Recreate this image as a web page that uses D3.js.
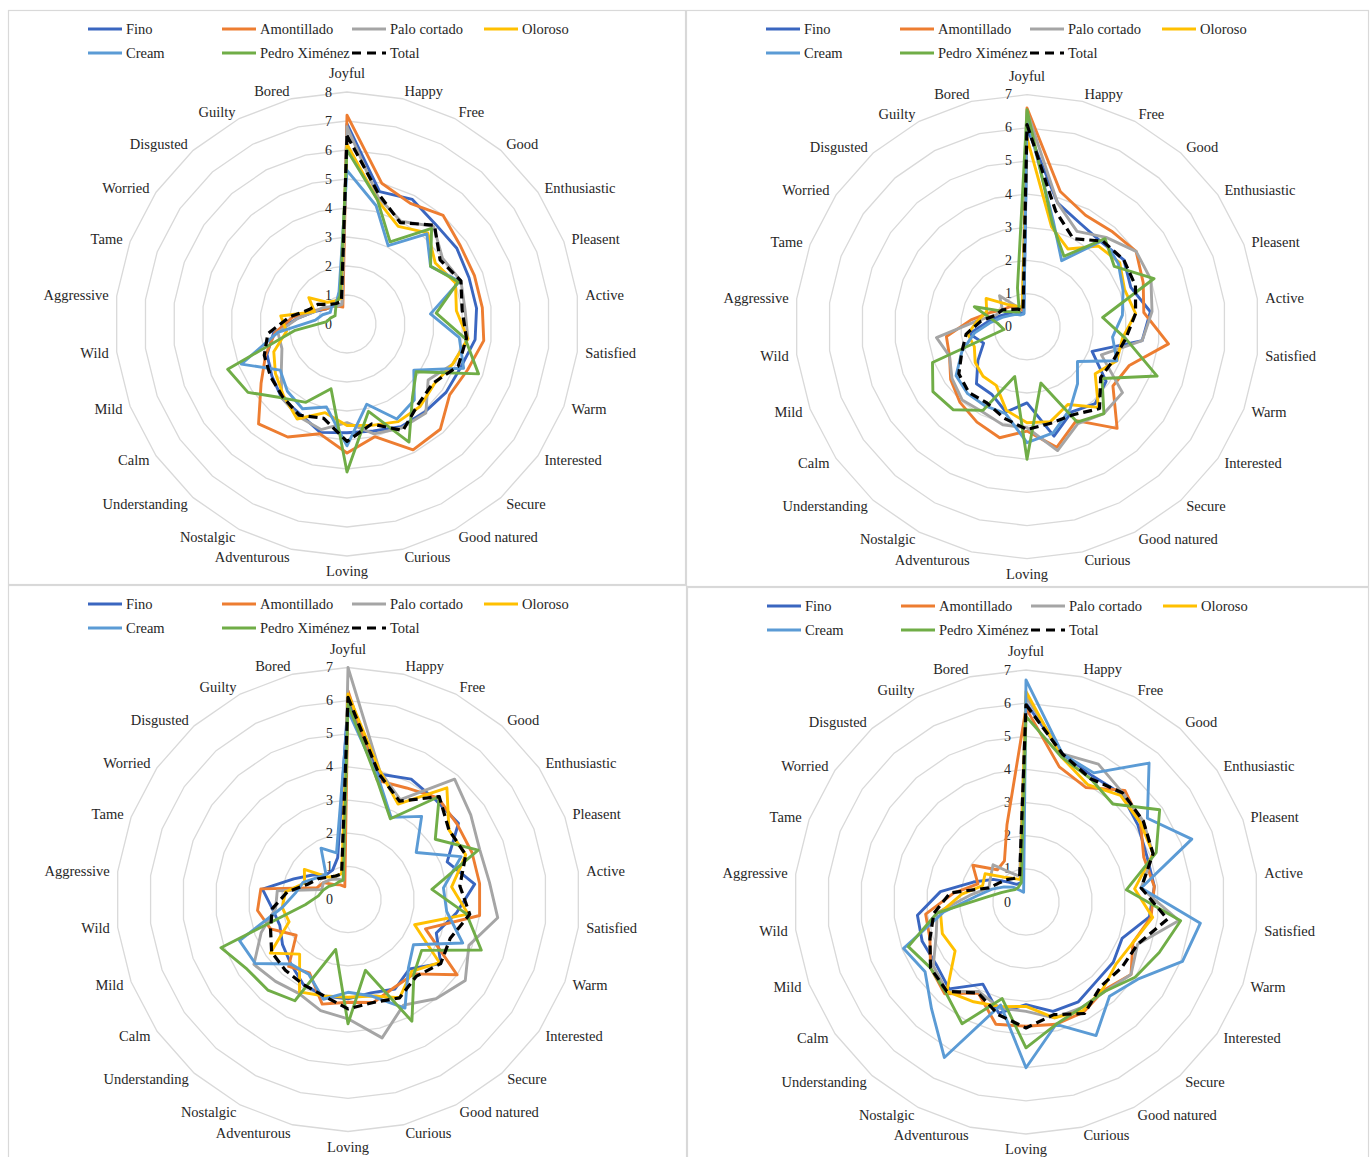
<!DOCTYPE html>
<html>
<head>
<meta charset="utf-8">
<script src="https://cdn.jsdelivr.net/npm/d3@7"></script>
<style>
  html, body { margin: 0; padding: 0; background: #fff; }
  svg { display: block; }
</style>
</head>
<body>
<svg id="chart" width="1370" height="1157"></svg>
<script>
// Emotion terms, clockwise from the top
const categories = ["Joyful","Happy","Free","Good","Enthusiastic","Pleasent","Active","Satisfied","Warm","Interested","Secure","Good natured","Curious","Loving","Adventurous","Nostalgic","Understanding","Calm","Mild","Wild","Aggressive","Tame","Worried","Disgusted","Guilty","Bored"];
const seriesNames = ["Fino","Amontillado","Palo cortado","Oloroso","Cream","Pedro Ximénez","Total"];

// Panel A (scale 0–8)
const aFino   = [6.9,4.7,4.85,4.6,4.6,4.5,4.5,4.45,4.2,4.15,4.05,4.0,3.8,3.75,3.85,3.5,3.4,3.15,2.95,2.55,1.7,1.2,0.9,0.8,0.7,0.7];
const aAmont  = [7.2,5.0,4.7,5.0,4.75,4.7,4.7,4.75,4.45,4.3,4.85,4.9,4.0,4.45,3.9,4.4,4.6,3.6,3.0,2.5,1.9,1.3,0.9,0.8,0.7,0.6];
const aPalo   = [6.8,4.5,4.0,4.5,4.0,4.2,4.1,4.2,3.9,3.4,4.1,4.05,3.9,3.4,3.75,3.6,3.4,2.75,2.4,2.4,1.7,1.2,1.0,0.8,0.7,0.7];
const aOlor   = [6.2,4.4,3.8,4.2,3.7,4.0,3.8,4.2,3.9,3.65,3.8,3.8,3.6,3.5,3.15,3.7,3.3,3.0,2.7,2.1,2.3,1.2,1.6,1.0,0.9,0.9];
const aCream  = [5.3,4.2,3.05,4.15,3.5,4.15,2.9,3.9,4.3,2.8,3.5,3.7,2.85,4.2,2.95,3.3,3.1,2.8,3.9,2.4,1.1,0.9,0.7,0.8,0.8,1.15];
const aPX     = [6.0,4.4,3.2,4.4,3.5,4.1,3.1,4.1,4.85,2.9,3.4,4.6,3.1,5.1,2.3,3.05,3.4,4.15,4.4,1.8,0.7,0.6,0.5,0.6,0.8,1.0];
const aTotal  = [6.5,4.6,3.95,4.55,3.9,4.2,4.0,4.15,4.1,3.6,3.7,4.15,3.55,4.05,3.35,3.55,3.35,3.2,3.05,2.75,2.0,1.4,1.2,0.9,0.8,0.8];

// Panel B (scale 0–7)
const bFino   = [6.0,3.85,3.5,3.4,3.55,3.35,3.75,3.5,2.1,2.9,3.1,2.9,3.4,2.3,2.65,2.3,2.3,1.8,1.4,1.75,1.2,0.9,0.7,0.6,0.5,0.4];
const bAmont  = [6.6,4.2,3.8,3.85,4.0,3.75,3.55,4.3,3.3,3.15,4.1,3.2,3.75,3.15,3.45,3.25,3.05,2.8,2.5,2.45,1.7,1.2,0.9,0.8,0.7,0.5];
const bPalo   = [6.5,3.85,3.25,3.6,4.0,4.0,3.8,3.5,2.4,3.5,3.5,3.3,3.85,3.05,3.05,2.9,2.95,2.75,2.5,2.75,1.5,1.0,0.9,1.25,0.7,0.6];
const bOlor   = [5.7,3.1,2.65,3.25,3.4,3.15,3.3,2.9,2.9,2.5,3.25,2.65,2.95,2.9,2.6,2.0,2.0,1.9,1.7,1.8,1.5,1.3,1.5,0.9,0.7,0.6];
const bCream  = [6.3,3.3,2.25,3.5,3.35,3.1,2.9,2.6,2.9,1.85,2.3,2.8,3.3,3.5,2.7,2.7,2.7,2.6,2.1,1.6,1.1,0.8,0.6,0.5,0.4,0.4];
const bPX     = [6.55,3.2,2.4,3.55,3.2,4.1,2.3,3.0,4.2,2.75,3.5,3.25,1.75,4.0,1.55,2.85,3.35,3.45,3.05,0.7,0.9,1.7,0.8,0.6,0.5,1.2];
const bTotal  = [6.1,3.6,3.0,3.45,3.55,3.5,3.3,3.0,2.8,2.7,3.3,3.0,3.0,3.1,2.85,2.6,2.65,2.5,2.1,1.85,1.4,1.0,0.9,0.7,0.6,0.5];

// Panel C (scale 0–7)
const cFino   = [6.0,3.9,4.1,4.0,4.05,3.2,3.85,3.3,2.85,3.4,2.8,3.05,2.9,3.0,3.0,2.9,2.6,2.4,2.2,2.3,2.6,1.75,1.3,1.0,1.0,1.3];
const cAmont  = [6.3,3.7,3.8,4.1,4.0,4.0,4.0,4.0,2.5,4.0,3.0,3.0,3.2,3.1,3.25,2.5,2.7,1.9,2.5,2.75,2.65,1.0,0.9,0.6,0.5,0.4];
const cPalo   = [7.0,4.0,3.4,4.85,4.5,4.25,4.3,4.55,3.9,4.3,4.0,3.6,4.3,3.6,3.45,3.2,3.3,3.45,2.8,2.2,2.15,0.85,0.9,0.8,0.7,0.6];
const cOlor   = [6.2,4.0,3.25,4.5,3.7,3.8,3.15,3.65,2.15,3.35,2.9,3.35,3.0,2.95,3.0,3.15,2.2,2.85,1.9,2.0,1.9,1.4,1.6,0.9,0.8,0.8];
const cCream  = [5.7,3.8,2.8,3.35,2.5,3.65,2.9,3.0,3.7,2.4,2.75,3.7,3.0,2.8,3.1,2.55,2.6,3.4,3.5,2.0,1.6,1.45,1.15,1.0,1.75,1.45];
const cPX     = [5.9,3.7,2.75,4.15,3.2,4.2,2.55,3.6,4.3,2.7,3.0,4.15,2.2,3.75,1.55,3.45,3.65,3.7,4.1,1.3,0.9,0.8,0.7,0.6,0.6,0.6];
const cTotal  = [6.1,3.9,3.35,4.15,3.7,3.8,3.4,3.7,3.3,3.4,3.1,3.35,3.2,3.3,3.0,2.9,2.85,2.8,2.5,2.3,1.85,1.3,1.1,0.9,0.8,0.8];

// Panel D (scale 0–7)
const dFino   = [6.0,4.6,4.3,4.35,4.1,3.9,3.9,3.75,3.1,3.2,3.2,3.4,3.4,3.1,3.45,2.8,3.5,3.3,3.35,3.3,2.6,1.7,1.2,0.8,0.6,0.6];
const dAmont  = [5.85,4.2,3.9,4.5,4.2,3.8,3.9,3.8,3.45,3.85,3.55,3.75,3.8,3.75,3.8,3.1,3.7,3.5,3.1,3.05,2.2,1.55,1.95,1.3,1.4,2.4];
const dPalo   = [6.2,4.6,4.7,4.4,4.3,4.1,3.5,4.65,3.6,3.85,3.6,3.6,3.6,3.3,3.3,3.05,3.6,3.4,2.9,2.7,1.7,1.2,1.3,1.5,1.0,0.8];
const dOlor   = [6.35,4.5,4.0,4.3,4.2,4.1,3.3,3.85,3.45,3.3,3.5,3.7,3.6,3.15,3.25,3.4,3.6,2.6,2.7,2.6,1.95,1.4,1.5,1.0,0.8,0.7];
const dCream  = [6.7,4.6,4.4,5.6,4.45,5.35,3.5,5.3,5.05,4.1,3.8,4.55,3.8,5.0,3.2,5.3,4.3,3.7,3.95,2.5,1.5,1.1,0.8,0.6,0.4,0.3];
const dPX     = [5.6,4.5,4.2,3.95,4.9,4.2,3.05,4.7,4.3,4.0,3.6,3.6,3.8,4.4,3.0,4.15,3.65,3.5,3.8,2.7,1.2,0.8,0.6,0.5,0.5,0.6];
const dTotal  = [5.95,4.6,4.2,4.4,4.3,4.1,3.5,4.3,3.6,3.5,3.4,3.8,3.5,3.8,3.5,3.1,3.6,3.5,3.1,2.8,2.3,1.2,1.0,0.9,0.8,0.8];

const axisMax = [8, 7, 7, 7];

// Line styles per series (same order as seriesNames)
const seriesStyle = [
  { color: "#3a66c0", dash: null },
  { color: "#ed7d31", dash: null },
  { color: "#a5a5a5", dash: null },
  { color: "#ffc000", dash: null },
  { color: "#5b9bd5", dash: null },
  { color: "#70ad47", dash: null },
  { color: "#000000", dash: "9,5" }
];

// Panel frames: box, radar centre
const frames = [
  { x0: 8,   y0: 10,  x1: 685,  y1: 584,  cx: 347,    cy: 324 },
  { x0: 686, y0: 10,  x1: 1368, y1: 586,  cx: 1027,   cy: 326.7 },
  { x0: 8,   y0: 585, x1: 686,  y1: 1170, cx: 348,    cy: 899.5 },
  { x0: 687, y0: 587, x1: 1368, y1: 1170, cx: 1026,   cy: 902 }
];

const panelValues = [
  [aFino, aAmont, aPalo, aOlor, aCream, aPX, aTotal],
  [bFino, bAmont, bPalo, bOlor, bCream, bPX, bTotal],
  [cFino, cAmont, cPalo, cOlor, cCream, cPX, cTotal],
  [dFino, dAmont, dPalo, dOlor, dCream, dPX, dTotal]
];

const FONT = "'Liberation Serif', 'DejaVu Serif', serif";
const INK = "#262626";
const R = 232;
const svg = d3.select("#chart").attr("font-family", FONT);
const angle = d3.scaleLinear().domain([0, categories.length]).range([0, 2 * Math.PI]);

frames.forEach((f, p) => {
  const g = svg.append("g");
  // panel border
  g.append("rect")
    .attr("x", f.x0 + 0.5).attr("y", f.y0 + 0.5)
    .attr("width", f.x1 - f.x0).attr("height", f.y1 - f.y0)
    .attr("fill", "#fff").attr("stroke", "#d9d9d9").attr("stroke-width", 1.2);

  const maxV = axisMax[p];
  const r = d3.scaleLinear().domain([0, maxV]).range([0, R]);
  const plot = g.append("g").attr("transform", `translate(${f.cx},${f.cy})`);

  // polygonal gridlines
  const ring = d3.lineRadial()
    .angle((d, i) => angle(i))
    .radius(d => r(d))
    .curve(d3.curveLinearClosed);
  d3.range(1, maxV + 1).forEach(k => {
    plot.append("path")
      .attr("d", ring(categories.map(() => k)))
      .attr("fill", "none")
      .attr("stroke", "#d9d9d9")
      .attr("stroke-width", 1.3);
  });

  // value tick labels
  plot.selectAll("text.tick")
    .data(d3.range(0, maxV + 1))
    .join("text")
    .attr("class", "tick")
    .attr("x", -15)
    .attr("y", d => -r(d))
    .attr("text-anchor", "end")
    .attr("dominant-baseline", "central")
    .attr("font-family", FONT)
    .attr("fill", INK)
    .style("font-size", "14px")
    .text(d => d);

  // category labels around the rim
  categories.forEach((c, i) => {
    const a = angle(i);
    const s = Math.sin(a), co = Math.cos(a);
    let x = (R + 8) * s, y = -(R + 8) * co;
    let anchor = "start";
    if (Math.abs(s) < 0.01) {
      anchor = "middle";
      y = co > 0 ? -(R + 19) : (R + 15);
    } else if (s < 0) anchor = "end";
    plot.append("text")
      .attr("x", x).attr("y", y)
      .attr("text-anchor", anchor)
      .attr("dominant-baseline", "central")
      .attr("font-family", FONT)
      .attr("fill", INK)
      .style("font-size", "14.5px")
      .text(c);
  });

  // series polygons
  const line = d3.lineRadial()
    .angle((d, i) => angle(i))
    .radius(d => r(d))
    .curve(d3.curveLinearClosed);
  panelValues[p].forEach((vals, si) => {
    const st = seriesStyle[si];
    plot.append("path")
      .attr("d", line(vals))
      .attr("fill", "none")
      .attr("stroke", st.color)
      .attr("stroke-width", si === 6 ? 3.2 : 2.9)
      .attr("stroke-linejoin", "round")
      .attr("stroke-dasharray", st.dash);
  });

  // legend (two rows)
  const legendCols = [80, 214, 344, 476];
  const leg = g.append("g");
  seriesNames.forEach((name, si) => {
    const row = si < 4 ? 0 : 1;
    const col = si < 4 ? si : si - 4;
    const lx = f.x0 + legendCols[col];
    const ly = f.y0 + 19 + row * 24;
    const st = seriesStyle[si];
    leg.append("line")
      .attr("x1", lx).attr("x2", lx + 34)
      .attr("y1", ly).attr("y2", ly)
      .attr("stroke", st.color)
      .attr("stroke-width", si === 6 ? 3.2 : 2.9)
      .attr("stroke-dasharray", si === 6 ? "9,6" : null);
    leg.append("text")
      .attr("x", lx + 38).attr("y", ly)
      .attr("dominant-baseline", "central")
      .attr("font-family", FONT)
      .attr("fill", INK)
      .style("font-size", "14.5px")
      .text(name);
  });
});
</script>
</body>
</html>
